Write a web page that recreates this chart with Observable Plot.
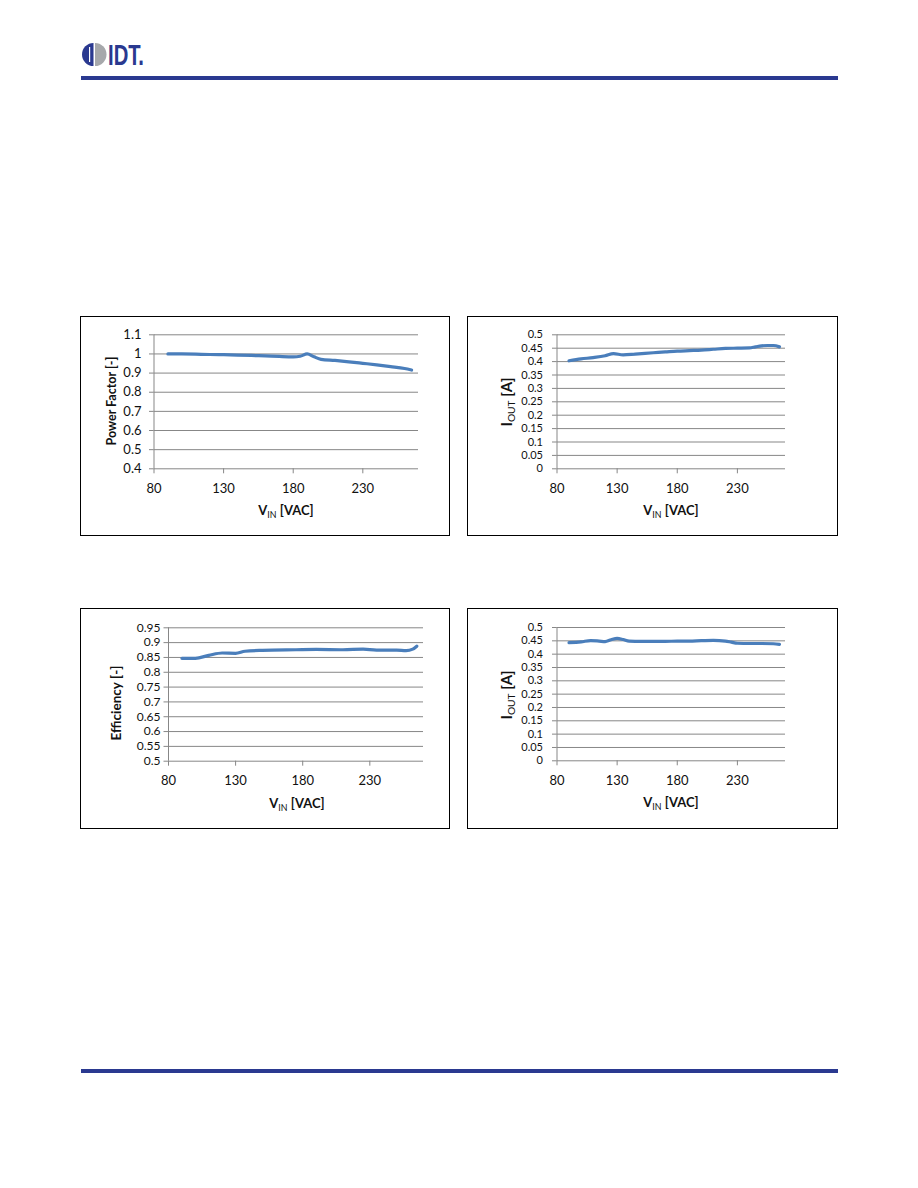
<!DOCTYPE html>
<html>
<head>
<meta charset="utf-8">
<script src="https://cdn.jsdelivr.net/npm/d3@7"></script>
<script src="https://cdn.jsdelivr.net/npm/@observablehq/plot@0.6"></script>
<style>
  html, body { margin: 0; padding: 0; background: #fff; }
  body { width: 918px; height: 1188px; position: relative; overflow: hidden; font-family: Lato, "Open Sans", sans-serif; }
  .rule { position: absolute; background: #2a3990; }
  .box { position: absolute; box-sizing: border-box; border: 1.5px solid #000; pointer-events: none; }
  .plotwrap { position: absolute; }
  .ttl { position: absolute; font-weight: bold; color: #111; white-space: nowrap; transform: translate(-50%, -50%); line-height: 1; }
  .ttl.rot { transform: translate(-50%, -50%) rotate(-90deg); }
  .ttl .sb { color: #111; font-size: 0.68em; font-weight: normal; position: relative; top: 0.3em; }
</style>
</head>
<body>
<script>
// ---- data ----
const xTicks = [80, 130, 180, 230];

const vinPF = [90, 100, 110, 120, 130, 140, 150, 160, 170, 180, 185, 190, 195, 200, 210, 220, 230, 240, 250, 260, 265];
const powerFactor = [1.0, 1.0, 0.999, 0.997, 0.996, 0.994, 0.992, 0.99, 0.987, 0.985, 0.988, 1.0, 0.985, 0.972, 0.966, 0.959, 0.951, 0.943, 0.934, 0.924, 0.916];
const pfTicks = [0.4, 0.5, 0.6, 0.7, 0.8, 0.9, 1, 1.1];

const vinI1 = [90, 100, 110, 120, 127, 135, 145, 160, 170, 180, 190, 200, 210, 220, 230, 240, 245, 250, 255, 260, 265];
const iout1 = [0.403, 0.41, 0.415, 0.422, 0.43, 0.425, 0.428, 0.433, 0.436, 0.439, 0.441, 0.443, 0.446, 0.449, 0.45, 0.451, 0.455, 0.459, 0.46, 0.46, 0.455];
const ioutTicks = [0, 0.05, 0.1, 0.15, 0.2, 0.25, 0.3, 0.35, 0.4, 0.45, 0.5];

const vinEff = [90, 100, 110, 120, 130, 137, 150, 175, 190, 210, 225, 235, 250, 257, 262, 265];
const efficiency = [0.847, 0.847, 0.857, 0.865, 0.864, 0.871, 0.874, 0.876, 0.877, 0.876, 0.878, 0.875, 0.875, 0.873, 0.878, 0.888];
const effTicks = [0.5, 0.55, 0.6, 0.65, 0.7, 0.75, 0.8, 0.85, 0.9, 0.95];

const vinI2 = [90, 100, 108, 115, 120, 125, 130, 135, 140, 150, 160, 170, 180, 190, 200, 210, 220, 225, 230, 240, 250, 260, 265];
const iout2 = [0.443, 0.446, 0.451, 0.449, 0.447, 0.454, 0.459, 0.455, 0.449, 0.448, 0.448, 0.448, 0.449, 0.449, 0.451, 0.452, 0.449, 0.445, 0.441, 0.44, 0.44, 0.439, 0.437];

// ---- page decorations ----
function addDiv(cls, css, html) {
  const d = document.createElement("div");
  d.className = cls;
  Object.assign(d.style, css);
  if (html) d.innerHTML = html;
  document.body.appendChild(d);
  return d;
}

// logo
const logo = document.createElementNS("http://www.w3.org/2000/svg", "svg");
logo.setAttribute("width", "110"); logo.setAttribute("height", "40");
logo.style.position = "absolute"; logo.style.left = "78px"; logo.style.top = "36px";
logo.innerHTML = `
  <path d="M15.5,7 A11.5,11.5 0 0 0 15.5,30 Z" fill="#2a3990"/>
  <path d="M17,7 A11.5,11.5 0 0 1 17,30 Z" fill="#a6a8ab"/>
  <rect x="11" y="11" width="1.2" height="15" fill="#fff"/>
  <text x="30" y="29" font-family="Liberation Sans, Arial, sans-serif" font-weight="bold" font-size="29" fill="#2a3990" textLength="36" lengthAdjust="spacingAndGlyphs">IDT.</text>`;
document.body.appendChild(logo);

addDiv("rule", {left: "81px", top: "76px", width: "757px", height: "4px"});
addDiv("rule", {left: "81px", top: "1069px", width: "757px", height: "4px"});

// ---- charts ----
const fmt = d => String(d);

function makeChart(cfg) {
  const data = cfg.xs.map((x, i) => ({x, y: cfg.ys[i]}));
  const plot = Plot.plot({
    width: cfg.w, height: cfg.h,
    marginLeft: cfg.ml, marginRight: cfg.mr, marginTop: cfg.mt, marginBottom: cfg.mb,
    style: {fontFamily: "Lato, 'Open Sans', sans-serif", fontSize: "13px", color: "#111", background: "transparent", overflow: "visible"},
    x: {domain: [80, 270]},
    y: {domain: [cfg.yTicks[0], cfg.yTicks[cfg.yTicks.length - 1]]},
    marks: [
      Plot.ruleY(cfg.yTicks, {stroke: "#878787", strokeWidth: 1}),
      Plot.ruleX([80], {stroke: "#878787", strokeWidth: 1}),
      Plot.axisY({ticks: cfg.yTicks, tickSize: 4.5, tickPadding: cfg.yPad, stroke: "#878787", fill: "#111", fontSize: cfg.yFont, tickFormat: fmt, label: null}),
      Plot.axisX({ticks: xTicks, tickSize: 5, tickPadding: 10, stroke: "#878787", fill: "#111", tickFormat: fmt, label: null}),
      Plot.line(data, {x: "x", y: "y", stroke: "#4a7ebb", strokeWidth: 3.2, curve: "monotone-x", strokeLinecap: "round"})
    ]
  });
  const wrap = addDiv("plotwrap", {left: cfg.left + "px", top: cfg.top + "px", width: cfg.w + "px", height: cfg.h + "px"});
  wrap.appendChild(plot);
  addDiv("box", {left: cfg.left + "px", top: cfg.top + "px", width: cfg.w + "px", height: cfg.h + "px"});
  addDiv("ttl rot", {left: cfg.yt[0] + "px", top: cfg.yt[1] + "px", fontSize: cfg.ytSize + "px"}, cfg.yTitle);
  addDiv("ttl", {left: cfg.xt[0] + "px", top: cfg.xt[1] + "px", fontSize: "13px"}, 'V<span class="sb">IN</span> [VAC]');
}

makeChart({left: 80, top: 316, w: 370, h: 220, ml: 73.5, mr: 32, mt: 18.3, mb: 67.7, yPad: 8, yFont: 13,
  xs: vinPF, ys: powerFactor, yTicks: pfTicks,
  yTitle: "Power Factor [-]", yt: [111.5, 401], ytSize: 12.5, xt: [286, 510]});

makeChart({left: 467, top: 316, w: 371, h: 220, ml: 89.5, mr: 53, mt: 18.3, mb: 67.7, yPad: 9.5, yFont: 11,
  xs: vinI1, ys: iout1, yTicks: ioutTicks,
  yTitle: 'I<span class="sb">OUT</span> [A]', yt: [506, 401.5], ytSize: 15, xt: [671, 510]});

makeChart({left: 80, top: 608, w: 370, h: 221, ml: 88, mr: 27, mt: 19.3, mb: 68.3, yPad: 3.5, yFont: 12,
  xs: vinEff, ys: efficiency, yTicks: effTicks,
  yTitle: "Efficiency [-]", yt: [116.5, 703], ytSize: 13.5, xt: [297, 803]});

makeChart({left: 467, top: 608, w: 371, h: 221, ml: 89.5, mr: 53, mt: 19, mb: 68.7, yPad: 9.5, yFont: 11,
  xs: vinI2, ys: iout2, yTicks: ioutTicks,
  yTitle: 'I<span class="sb">OUT</span> [A]', yt: [505.5, 694.5], ytSize: 15, xt: [671, 802]});
</script>
</body>
</html>
